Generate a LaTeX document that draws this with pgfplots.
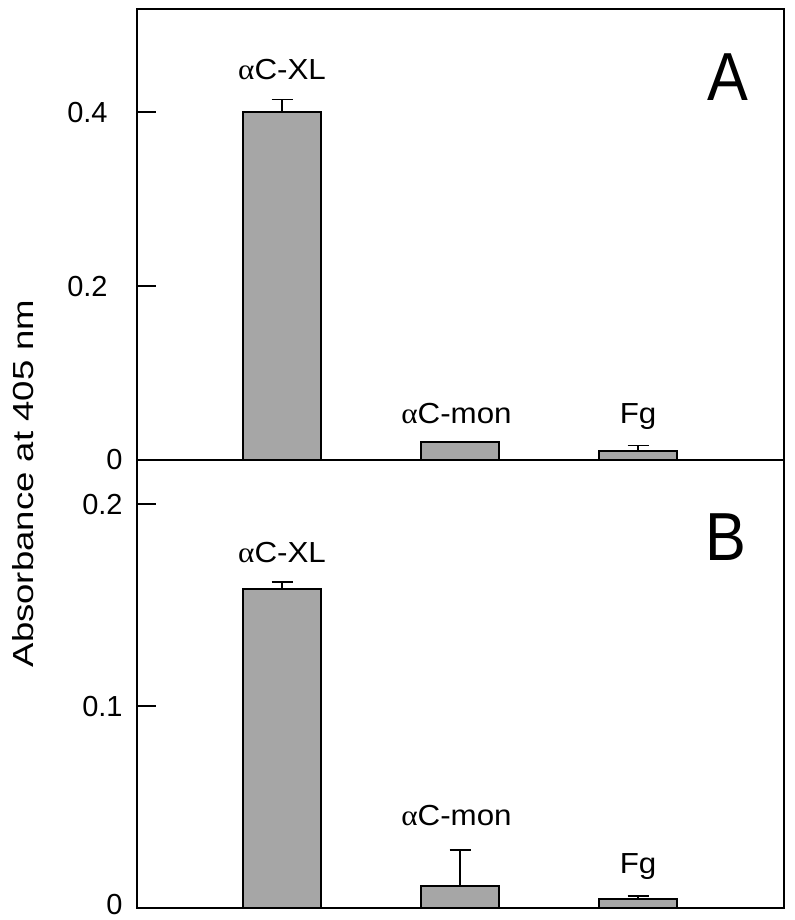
\documentclass[border=0pt]{standalone}
\usepackage{fontspec}
\setmainfont{Liberation Sans}
\newfontfamily\grk{Liberation Serif}
\usepackage{graphicx}
\usepackage{pgfplots}
\pgfplotsset{compat=1.18}
\definecolor{barfill}{RGB}{166,166,166}
\newcommand{\bl}[1]{\scalebox{1.08}[1]{#1}}
\pgfplotsset{
  panel/.style={
    scale only axis, width=323.5pt,
    xmin=0.1854, xmax=3.82,
    xtick=\empty, ytick pos=left,
    tick align=inside, major tick length=9.5pt,
    axis line style={line width=1pt},
    every tick/.style={line width=0.9pt, black},
    yticklabel style={font=\fontsize{14.5}{16}\selectfont, inner sep=0pt},
    clip=false,
  },
  bars/.style={ybar, bar width=39pt, bar shift=0pt, fill=barfill, draw=black, line width=0.9pt,
    error bars/.cd, y dir=plus, y explicit,
    error bar style={line width=0.8pt, black},
    error mark options={rotate=90, line width=0.8pt, mark size=5.25pt, black}},
}
\tikzset{barlab/.style={font=\fontsize{14.5}{16}\selectfont, anchor=base, inner sep=0pt}}
\begin{document}
\begin{tikzpicture}
\useasboundingbox (-68.5pt,-6pt) rectangle (329pt,454pt);
% bottom panel (B)
\begin{axis}[panel, name=bot, at={(0pt,0pt)}, anchor=south west,
  height=224pt, ymin=0, ymax=0.2218,
  yticklabel style={xshift=-7pt},
  ytick={0,0.1,0.2}, yticklabels={\raisebox{4pt}{0},0.1,0.2}]
\addplot[bars] coordinates {(1,0.1578) +- (0,0.0037) (2,0.0107) +- (0,0.018) (3,0.0046) +- (0,0.0012)};
\node[barlab] at (axis cs:1,0.1711) {\bl{{\grk α}C-XL}};
\node[barlab] at (axis cs:1.98,0.0406) {\bl{{\grk α}C-mon}};
\node[barlab] at (axis cs:3,0.0172) {\bl{Fg}};
\node[font=\fontsize{34}{36}\selectfont, inner sep=0pt] at (rel axis cs:0.910,0.829) {\scalebox{0.9}[1]{B}};
\node[rotate=90, font=\fontsize{14.5}{16}\selectfont, inner sep=0pt] at (rel axis cs:-0.1762,0.9475) {\scalebox{1.26}[1]{Absorbance at 405 nm}};
\end{axis}
% top panel (A)
\begin{axis}[panel, name=top, at={(0pt,224pt)}, anchor=south west,
  height=225.5pt, ymin=0, ymax=0.519,
  yticklabel style={xshift=-14.5pt},
  ytick={0.2,0.4}, yticklabels={0.2,0.4},
  extra y ticks={0}, extra y tick labels={0},
  extra y tick style={yticklabel style={xshift=7.5pt}}]
\addplot[bars] coordinates {(1,0.400) +- (0,0.015) (3,0.0107) +- (0,0.0058)};
\addplot[ybar, bar width=39pt, bar shift=0pt, fill=barfill, draw=black, line width=0.9pt] coordinates {(2,0.0204)};
\node[barlab] at (axis cs:1,0.4375) {\bl{{\grk α}C-XL}};
\node[barlab] at (axis cs:1.98,0.0423) {\bl{{\grk α}C-mon}};
\node[barlab] at (axis cs:3,0.0423) {\bl{Fg}};
\node[font=\fontsize{34}{36}\selectfont, inner sep=0pt] at (rel axis cs:0.913,0.850) {\scalebox{0.9}[1]{A}};
\end{axis}
\end{tikzpicture}
\end{document}
